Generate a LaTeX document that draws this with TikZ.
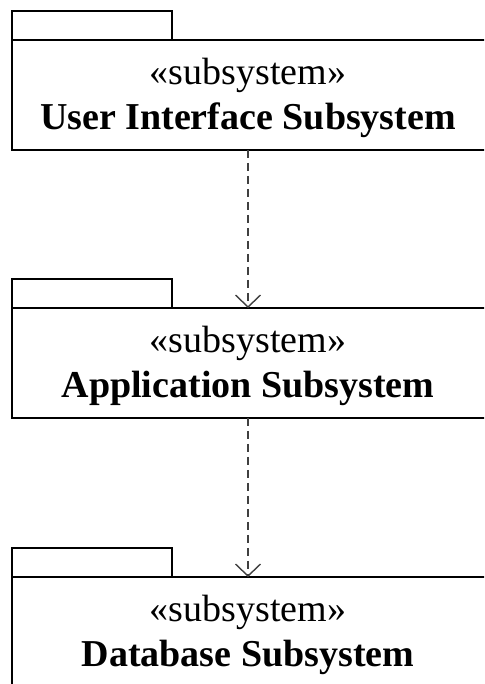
\documentclass[tikz,border=0pt]{standalone}
\usepackage{fontspec}
\setmainfont{Liberation Serif}
\usetikzlibrary{arrows.meta,positioning}
\definecolor{deparrow}{HTML}{404040}

\begin{document}
\begin{tikzpicture}[x=1pt, y=1pt,
  pkgbody/.style={draw, line width=1.6pt, minimum width=484pt, minimum height=110pt, inner sep=0pt, outer sep=0pt, anchor=north west},
  pkgtab/.style={draw, line width=1.6pt, minimum width=160pt, minimum height=29pt, inner sep=0pt, outer sep=0pt, anchor=south west},
  pkglabel/.style={align=center, inner sep=0pt, font=\fontsize{38}{45}\selectfont},
  dep/.style={-{Straight Barb[length=12pt, width=25pt, line width=1.4pt]}, line width=1.4pt, dash pattern=on 8pt off 5pt, color=deparrow}
]
\useasboundingbox (0,0) rectangle (484,684);
\clip (0,0) rectangle (484,684);
\node[pkgbody] (ui) at (12,644) {};
\node[pkgbody] (app) at (12,376) {};
\node[pkgbody] (db) at (12,107) {};
\node[pkgtab] (uitab) at (ui.north west) {};
\node[pkgtab] (apptab) at (app.north west) {};
\node[pkgtab] (dbtab) at (db.north west) {};
\node[pkglabel] (uilbl) at ([xshift=-6pt, yshift=-3pt]ui.center) {«subsystem»\\\textbf{User Interface Subsystem}};
\node[pkglabel] (applbl) at ([xshift=-6pt, yshift=-3pt]app.center) {«subsystem»\\\textbf{Application Subsystem}};
\node[pkglabel] (dblbl) at ([xshift=-6pt, yshift=-3pt]db.center) {«subsystem»\\\textbf{Database Subsystem}};
\draw[dep] (ui.south -| uilbl) -- (app.north -| applbl);
\draw[dep] (app.south -| applbl) -- (db.north -| dblbl);
\end{tikzpicture}
\end{document}
